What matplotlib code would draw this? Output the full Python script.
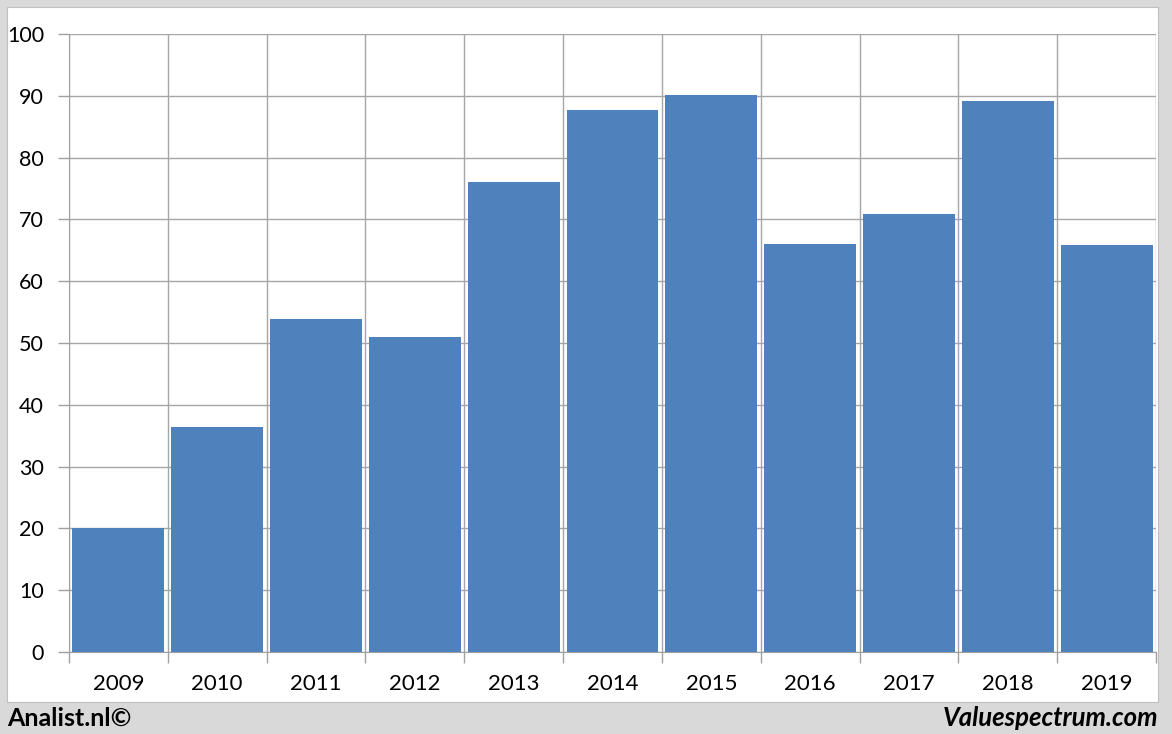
import matplotlib
matplotlib.use("Agg")
import matplotlib.pyplot as plt
from matplotlib.patches import Rectangle

years = ["2009", "2010", "2011", "2012", "2013", "2014",
         "2015", "2016", "2017", "2018", "2019"]
values = [20.1, 36.4, 53.9, 51.0, 76.1, 87.7, 90.1, 66.0, 70.9, 89.2, 65.9]
yticks = [0, 10, 20, 30, 40, 50, 60, 70, 80, 90, 100]

W, H = 1172, 734
plt.rcParams["font.family"] = ["Lato", "DejaVu Sans"]
fig = plt.figure(figsize=(W / 100, H / 100), dpi=100)
fig.patch.set_facecolor("#d9d9d9")

# white panel behind the chart
fig.patches.append(Rectangle((7 / W, 1 - 702 / H), (1158 - 7) / W, (702 - 7) / H,
                             transform=fig.transFigure, facecolor="white",
                             edgecolor="#bfbfbf", lw=0.8, zorder=-10))

ax = fig.add_axes([69 / W, 1 - 652 / H, (1156 - 69) / W, (652 - 34) / H])
x = range(len(years))
ax.bar(x, values, width=0.93, color="#4f81bd", zorder=3)
ax.set_xlim(-0.5, len(years) - 0.5)
ax.set_ylim(0, 100)
ax.set_yticks(yticks)
ax.set_yticklabels([str(v) for v in yticks], fontsize=15.5)
# category boundaries carry the grid lines and tick marks
ax.set_xticks([i - 0.5 for i in range(len(years) + 1)])
ax.set_xticklabels([])
ax.set_xticks(list(x), minor=True)
ax.set_xticklabels(years, minor=True, fontsize=16)
ax.tick_params(axis="x", which="minor", length=0, pad=16)
ax.tick_params(axis="x", which="major", length=8, color="#a0a0a0", width=1)
ax.tick_params(axis="y", length=8, color="#a0a0a0", width=1, pad=10)
ax.grid(True, which="major", color="#a6a6a6", lw=1, zorder=0)
for s in ["top", "right"]:
    ax.spines[s].set_visible(False)
for s in ["left", "bottom"]:
    ax.spines[s].set_color("#a0a0a0")
ax.set_facecolor("white")

fig.text(7 / W, 1 - 718 / H, "Analist.nl©", fontsize=18, fontweight="bold",
         ha="left", va="center")
fig.text(1158 / W, 1 - 718 / H, "Valuespectrum.com", fontsize=18.5,
         fontweight="bold", style="italic", ha="right", va="center")

fig.savefig("out.png", dpi=100, facecolor=fig.get_facecolor())
